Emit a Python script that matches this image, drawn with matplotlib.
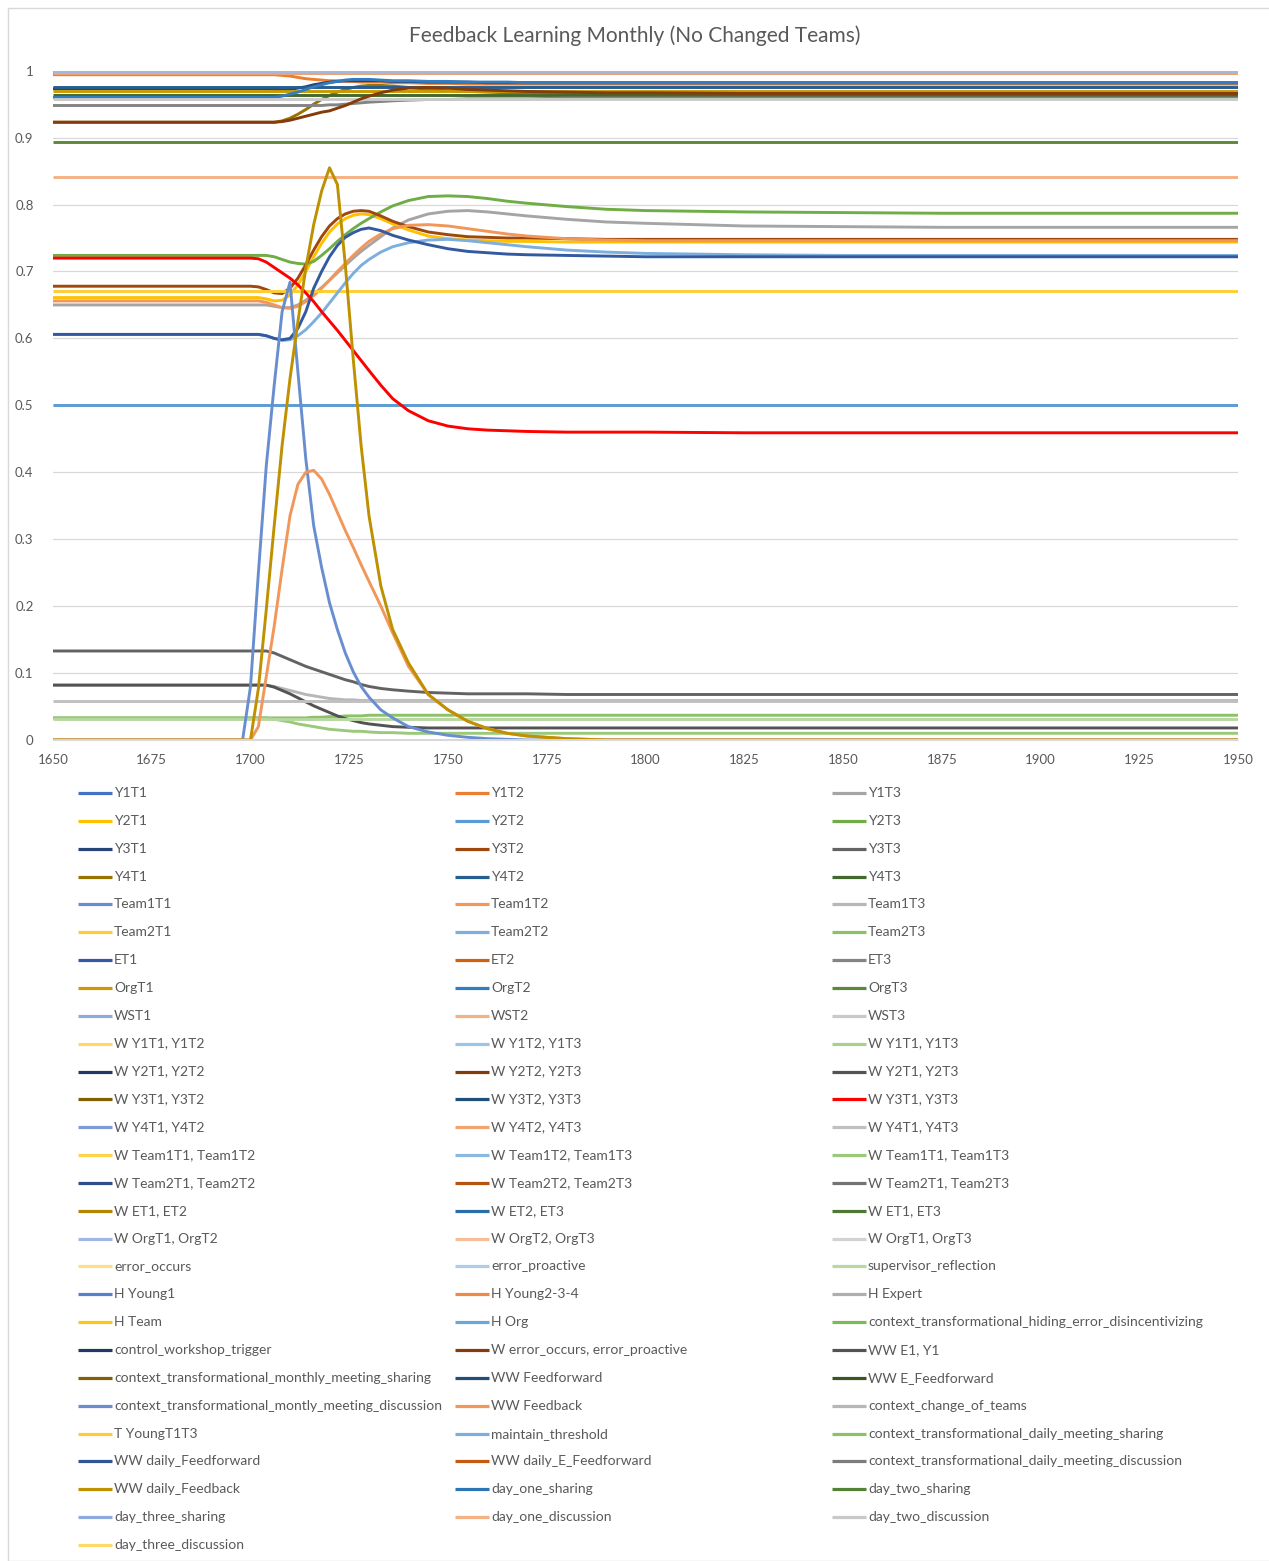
import colorsys
import numpy as np
import matplotlib
matplotlib.use("Agg")
import matplotlib.pyplot as plt
from matplotlib.lines import Line2D
from matplotlib.patches import Rectangle

plt.rcParams['font.family'] = ['Lato', 'DejaVu Sans']

title = "Feedback Learning Monthly (No Changed Teams)"

names = [
    "Y1T1", "Y1T2", "Y1T3",
    "Y2T1", "Y2T2", "Y2T3",
    "Y3T1", "Y3T2", "Y3T3",
    "Y4T1", "Y4T2", "Y4T3",
    "Team1T1", "Team1T2", "Team1T3",
    "Team2T1", "Team2T2", "Team2T3",
    "ET1", "ET2", "ET3",
    "OrgT1", "OrgT2", "OrgT3",
    "WST1", "WST2", "WST3",
    "W Y1T1, Y1T2", "W Y1T2, Y1T3", "W Y1T1, Y1T3",
    "W Y2T1, Y2T2", "W Y2T2, Y2T3", "W Y2T1, Y2T3",
    "W Y3T1, Y3T2", "W Y3T2, Y3T3", "W Y3T1, Y3T3",
    "W Y4T1, Y4T2", "W Y4T2, Y4T3", "W Y4T1, Y4T3",
    "W Team1T1, Team1T2", "W Team1T2, Team1T3", "W Team1T1, Team1T3",
    "W Team2T1, Team2T2", "W Team2T2, Team2T3", "W Team2T1, Team2T3",
    "W ET1, ET2", "W ET2, ET3", "W ET1, ET3",
    "W OrgT1, OrgT2", "W OrgT2, OrgT3", "W OrgT1, OrgT3",
    "error_occurs", "error_proactive", "supervisor_reflection",
    "H Young1", "H Young2-3-4", "H Expert",
    "H Team", "H Org", "context_transformational_hiding_error_disincentivizing",
    "control_workshop_trigger", "W error_occurs, error_proactive", "WW E1, Y1",
    "context_transformational_monthly_meeting_sharing", "WW Feedforward", "WW E_Feedforward",
    "context_transformational_montly_meeting_discussion", "WW Feedback", "context_change_of_teams",
    "T YoungT1T3", "maintain_threshold", "context_transformational_daily_meeting_sharing",
    "WW daily_Feedforward", "WW daily_E_Feedforward", "context_transformational_daily_meeting_discussion",
    "WW daily_Feedback", "day_one_sharing", "day_two_sharing",
    "day_three_sharing", "day_one_discussion", "day_two_discussion",
    "day_three_discussion",
]

# time points (denser around the monthly meeting)
t = [1650, 1675, 1698, 1700, 1702, 1704, 1706, 1708, 1710, 1712,
     1714, 1716, 1718, 1720, 1722, 1724, 1726, 1728, 1730, 1733,
     1736, 1740, 1745, 1750, 1755, 1760, 1765, 1770, 1780, 1790,
     1800, 1825, 1850, 1875, 1900, 1925, 1950]

y1t2 = [0.994, 0.994, 0.994, 0.994, 0.994, 0.994, 0.994, 0.993, 0.992, 0.990,
        0.988, 0.987, 0.986, 0.985, 0.985, 0.984, 0.984, 0.983, 0.983, 0.983,
        0.982, 0.982, 0.981, 0.981, 0.980, 0.980, 0.980, 0.980, 0.980, 0.980,
        0.980, 0.980, 0.980, 0.980, 0.980, 0.980, 0.980]
y1t3 = [0.650, 0.650, 0.650, 0.650, 0.650, 0.650, 0.648, 0.646, 0.646, 0.650,
        0.657, 0.666, 0.676, 0.687, 0.698, 0.709, 0.720, 0.730, 0.739, 0.752,
        0.765, 0.777, 0.786, 0.790, 0.791, 0.789, 0.786, 0.783, 0.778, 0.774,
        0.772, 0.768, 0.767, 0.766, 0.766, 0.766, 0.766]
y2t1 = [0.661, 0.661, 0.661, 0.661, 0.661, 0.659, 0.656, 0.657, 0.665, 0.680,
        0.700, 0.722, 0.742, 0.759, 0.771, 0.779, 0.784, 0.786, 0.785, 0.779,
        0.771, 0.762, 0.753, 0.749, 0.747, 0.746, 0.745, 0.745, 0.744, 0.744,
        0.744, 0.744, 0.744, 0.744, 0.744, 0.744, 0.744]
y2t3 = [0.724, 0.724, 0.724, 0.724, 0.724, 0.724, 0.722, 0.718, 0.714, 0.712,
        0.711, 0.715, 0.724, 0.734, 0.745, 0.755, 0.764, 0.772, 0.779, 0.789,
        0.798, 0.806, 0.812, 0.813, 0.812, 0.809, 0.805, 0.802, 0.797, 0.793,
        0.791, 0.789, 0.788, 0.787, 0.787, 0.787, 0.787]
y3t1 = [0.973, 0.973, 0.973, 0.973, 0.973, 0.973, 0.972, 0.971, 0.972, 0.974,
        0.976, 0.979, 0.981, 0.983, 0.984, 0.985, 0.985, 0.985, 0.985, 0.985,
        0.984, 0.984, 0.983, 0.983, 0.983, 0.982, 0.982, 0.982, 0.982, 0.982,
        0.982, 0.982, 0.982, 0.982, 0.982, 0.982, 0.982]
y3t2 = [0.678, 0.678, 0.678, 0.678, 0.677, 0.673, 0.668, 0.667, 0.675, 0.690,
        0.710, 0.732, 0.752, 0.768, 0.779, 0.786, 0.790, 0.791, 0.790, 0.783,
        0.775, 0.767, 0.759, 0.755, 0.752, 0.751, 0.750, 0.750, 0.749, 0.748,
        0.748, 0.748, 0.748, 0.748, 0.748, 0.748, 0.748]
y3t3 = [0.133, 0.133, 0.133, 0.133, 0.133, 0.133, 0.130, 0.125, 0.120, 0.115,
        0.110, 0.106, 0.102, 0.098, 0.094, 0.090, 0.087, 0.083, 0.080, 0.077,
        0.075, 0.073, 0.071, 0.070, 0.069, 0.069, 0.069, 0.069, 0.068, 0.068,
        0.068, 0.068, 0.068, 0.068, 0.068, 0.068, 0.068]
y4t1 = [0.923, 0.923, 0.923, 0.923, 0.923, 0.923, 0.923, 0.925, 0.929, 0.935,
        0.942, 0.950, 0.957, 0.963, 0.968, 0.972, 0.975, 0.977, 0.978, 0.978,
        0.977, 0.975, 0.972, 0.970, 0.969, 0.968, 0.967, 0.967, 0.966, 0.966,
        0.966, 0.966, 0.966, 0.966, 0.966, 0.966, 0.966]
team1t2 = [0.656, 0.656, 0.656, 0.656, 0.656, 0.654, 0.650, 0.646, 0.645, 0.648,
           0.655, 0.664, 0.675, 0.687, 0.700, 0.712, 0.724, 0.735, 0.745, 0.756,
           0.764, 0.769, 0.770, 0.768, 0.764, 0.760, 0.756, 0.753, 0.749, 0.747,
           0.746, 0.746, 0.746, 0.746, 0.746, 0.746, 0.746]
team1t3 = [0.082, 0.082, 0.082, 0.082, 0.082, 0.082, 0.080, 0.077, 0.074, 0.071,
           0.068, 0.066, 0.064, 0.062, 0.061, 0.060, 0.060, 0.059, 0.059, 0.059,
           0.059, 0.059, 0.059, 0.059, 0.059, 0.059, 0.059, 0.059, 0.059, 0.059,
           0.059, 0.059, 0.059, 0.059, 0.059, 0.059, 0.059]
team2t2 = [0.606, 0.606, 0.606, 0.606, 0.606, 0.604, 0.600, 0.597, 0.598, 0.604,
           0.613, 0.625, 0.638, 0.653, 0.668, 0.683, 0.697, 0.709, 0.718, 0.729,
           0.737, 0.743, 0.747, 0.748, 0.746, 0.743, 0.740, 0.737, 0.732, 0.729,
           0.727, 0.725, 0.724, 0.724, 0.724, 0.724, 0.724]
team2t3 = [0.033, 0.033, 0.033, 0.033, 0.033, 0.033, 0.033, 0.033, 0.033, 0.033,
           0.033, 0.034, 0.034, 0.035, 0.035, 0.036, 0.036, 0.036, 0.037, 0.037,
           0.037, 0.037, 0.037, 0.037, 0.037, 0.037, 0.037, 0.037, 0.037, 0.037,
           0.037, 0.037, 0.037, 0.037, 0.037, 0.037, 0.037]
et1 = [0.606, 0.606, 0.606, 0.606, 0.606, 0.604, 0.600, 0.598, 0.600, 0.615,
       0.640, 0.675, 0.700, 0.722, 0.739, 0.751, 0.758, 0.763, 0.765, 0.761,
       0.754, 0.747, 0.740, 0.734, 0.730, 0.728, 0.726, 0.725, 0.724, 0.723,
       0.722, 0.722, 0.722, 0.722, 0.722, 0.722, 0.722]
et3 = [0.948, 0.948, 0.948, 0.948, 0.948, 0.948, 0.948, 0.948, 0.948, 0.948,
       0.948, 0.948, 0.948, 0.949, 0.949, 0.950, 0.951, 0.952, 0.953, 0.954,
       0.955, 0.956, 0.957, 0.957, 0.958, 0.958, 0.958, 0.958, 0.959, 0.959,
       0.959, 0.959, 0.959, 0.959, 0.959, 0.959, 0.959]
orgt2 = [0.960, 0.960, 0.960, 0.960, 0.960, 0.960, 0.960, 0.962, 0.965, 0.968,
         0.972, 0.976, 0.979, 0.982, 0.984, 0.986, 0.987, 0.987, 0.987, 0.986,
         0.985, 0.985, 0.984, 0.984, 0.983, 0.983, 0.983, 0.982, 0.982, 0.982,
         0.982, 0.982, 0.982, 0.982, 0.982, 0.982, 0.982]
w_y2t2_y2t3 = [0.923, 0.923, 0.923, 0.923, 0.923, 0.923, 0.923, 0.924, 0.926, 0.929,
               0.932, 0.935, 0.938, 0.940, 0.944, 0.948, 0.953, 0.958, 0.962, 0.967,
               0.971, 0.974, 0.975, 0.974, 0.972, 0.971, 0.970, 0.969, 0.968, 0.967,
               0.967, 0.966, 0.966, 0.966, 0.966, 0.966, 0.966]
w_y2t1_y2t3 = [0.082, 0.082, 0.082, 0.082, 0.082, 0.082, 0.079, 0.074, 0.069, 0.063,
               0.057, 0.051, 0.046, 0.041, 0.036, 0.032, 0.029, 0.026, 0.024, 0.022,
               0.020, 0.019, 0.018, 0.018, 0.018, 0.018, 0.018, 0.018, 0.018, 0.018,
               0.018, 0.018, 0.018, 0.018, 0.018, 0.018, 0.018]
w_y3t1_y3t3 = [0.720, 0.720, 0.720, 0.720, 0.719, 0.714, 0.706, 0.698, 0.690, 0.680,
               0.668, 0.655, 0.640, 0.626, 0.612, 0.597, 0.582, 0.567, 0.552, 0.530,
               0.510, 0.492, 0.477, 0.469, 0.465, 0.463, 0.462, 0.461, 0.460, 0.460,
               0.460, 0.459, 0.459, 0.459, 0.459, 0.459, 0.459]
w_team1t1_team1t3 = [0.033, 0.033, 0.033, 0.033, 0.033, 0.033, 0.031, 0.029, 0.027, 0.024,
                     0.022, 0.020, 0.018, 0.016, 0.015, 0.014, 0.013, 0.013, 0.012, 0.011,
                     0.011, 0.010, 0.010, 0.010, 0.010, 0.010, 0.010, 0.010, 0.010, 0.010,
                     0.010, 0.010, 0.010, 0.010, 0.010, 0.010, 0.010]
monthly_discussion = [0.000, 0.000, 0.000, 0.080, 0.250, 0.410, 0.530, 0.640, 0.684, 0.550,
                      0.420, 0.320, 0.258, 0.205, 0.165, 0.130, 0.102, 0.080, 0.064, 0.045,
                      0.033, 0.020, 0.012, 0.007, 0.004, 0.002, 0.001, 0.000, 0.000, 0.000,
                      0.000, 0.000, 0.000, 0.000, 0.000, 0.000, 0.000]
ww_feedback = [0.000, 0.000, 0.000, 0.000, 0.020, 0.095, 0.170, 0.255, 0.335, 0.382,
               0.400, 0.403, 0.390, 0.367, 0.340, 0.313, 0.288, 0.262, 0.237, 0.200,
               0.160, 0.110, 0.068, 0.045, 0.028, 0.017, 0.010, 0.006, 0.002, 0.000,
               0.000, 0.000, 0.000, 0.000, 0.000, 0.000, 0.000]
ww_daily_feedback = [0.000, 0.000, 0.000, 0.000, 0.077, 0.195, 0.320, 0.440, 0.540, 0.625,
                     0.705, 0.770, 0.820, 0.855, 0.830, 0.710, 0.570, 0.440, 0.335, 0.230,
                     0.165, 0.115, 0.068, 0.045, 0.028, 0.017, 0.010, 0.006, 0.002, 0.000,
                     0.000, 0.000, 0.000, 0.000, 0.000, 0.000, 0.000]

curves = {
    "Y1T2": y1t2, "Y1T3": y1t3, "Y2T1": y2t1, "Y2T3": y2t3,
    "Y3T1": y3t1, "Y3T2": y3t2, "Y3T3": y3t3, "Y4T1": y4t1,
    "Team1T2": team1t2, "Team1T3": team1t3, "Team2T2": team2t2, "Team2T3": team2t3,
    "ET1": et1, "ET3": et3, "OrgT2": orgt2,
    "W Y2T2, Y2T3": w_y2t2_y2t3, "W Y2T1, Y2T3": w_y2t1_y2t3,
    "W Y3T1, Y3T3": w_y3t1_y3t3, "W Team1T1, Team1T3": w_team1t1_team1t3,
    "context_transformational_montly_meeting_discussion": monthly_discussion,
    "WW Feedback": ww_feedback, "WW daily_Feedback": ww_daily_feedback,
}

# series that stay on one level the whole run (None = see curves)
flat_levels = [
    0.998, None, None,
    None, 0.500, None,
    None, None, None,
    None, 0.975, 0.963,
    0.997, None, None,
    0.671, None, None,
    None, 0.0, None,
    0.969, None, 0.894,
    0.999, 0.841, 0.957,
    0.0, 0.0, 0.0,
    0.0, None, None,
    0.0, 0.0, None,
    0.0, 0.996, 0.059,
    0.0, 0.0, None,
    0.0, 0.0, 0.0,
    0.0, 0.0, 0.0,
    0.999, 0.0, 0.0,
    0.0, 0.0, 0.031,
    0.0, 0.0, 0.0,
    0.0, 0.0, 0.0,
    0.0, 0.0, 0.0,
    0.0, 0.0, 0.0,
    None, None, 0.0,
    0.0, 0.0, 0.0,
    0.0, 0.0, 0.0,
    None, 0.0, 0.0,
    0.0, 0.0, 0.0,
    0.0,
]

# office-style colour cycle: six accents, then darker / lighter shades
accents = ["#4472C4", "#ED7D31", "#A5A5A5", "#FFC000", "#5B9BD5", "#70AD47"]
shades = [(1.0, 0.0), (0.6, 0.0), (0.8, 0.2), (0.8, 0.0), (0.6, 0.4), (0.5, 0.0),
          (0.7, 0.3), (0.7, 0.0), (0.5, 0.5), (0.9, 0.1), (0.5, 0.0), (0.8, 0.2),
          (0.75, 0.0), (0.6, 0.4)]


def series_color(i):
    base = accents[i % 6]
    mod, off = shades[(i // 6) % len(shades)]
    r, g, b = [int(base[k:k + 2], 16) / 255 for k in (1, 3, 5)]
    h, l, s = colorsys.rgb_to_hls(r, g, b)
    l = min(1.0, l * mod + off)
    return colorsys.hls_to_rgb(h, l, s)


colors = [series_color(i) for i in range(len(names))]
colors[names.index("W Y3T1, Y3T3")] = "#FF0000"

W, H = 1269, 1561
fig = plt.figure(figsize=(W / 100, H / 100), dpi=100)
fig.patch.set_facecolor("white")
fig.add_artist(Rectangle((8 / W, 0), 1.2, 1 - 8 / H, transform=fig.transFigure,
                         fill=False, edgecolor="#D9D9D9", lw=1))

ax = fig.add_axes([53 / W, 1 - 740 / H, (1238 - 53) / W, (740 - 70.7) / H])
tt = np.array(t, dtype=float)
for i, name in enumerate(names):
    if flat_levels[i] is None:
        vals = np.array(curves[name], dtype=float)
    else:
        vals = np.full(len(tt), flat_levels[i])
    ax.plot(tt, vals, color=colors[i], lw=2.1, solid_capstyle="butt", zorder=2 + i * 0.01)

ax.set_xlim(1650, 1950)
ax.set_ylim(0, 1)
ax.set_xticks(np.arange(1650, 1951, 25))
ax.set_yticks(np.arange(0, 1.01, 0.1))
ax.set_yticklabels(["0", "0.1", "0.2", "0.3", "0.4", "0.5", "0.6", "0.7", "0.8", "0.9", "1"])
ax.grid(axis="y", color="#D9D9D9", lw=0.9, zorder=0)
ax.set_axisbelow(True)
for side in ("top", "right", "left"):
    ax.spines[side].set_visible(False)
ax.spines["bottom"].set_color("#D9D9D9")
ax.tick_params(axis="both", length=0, colors="#595959", labelsize=9.5)
ax.tick_params(axis="y", pad=14)
ax.tick_params(axis="x", pad=10)

fig.text(0.5, 1 - 36 / H, title, ha="center", va="center", fontsize=15, color="#595959")

# legend laid out row by row in three columns
for i, name in enumerate(names):
    row, col = divmod(i, 3)
    y = 1 - (793 + row * 27.85) / H
    x0 = (78 + col * 377) / W
    x1 = (112 + col * 377) / W
    fig.add_artist(Line2D([x0, x1], [y, y], transform=fig.transFigure,
                          color=colors[i], lw=2.3, solid_capstyle="butt"))
    fig.text(x1 + 2 / W, y, name, ha="left", va="center", fontsize=10, color="#595959")

fig.savefig("out.png", dpi=100, facecolor="white")
